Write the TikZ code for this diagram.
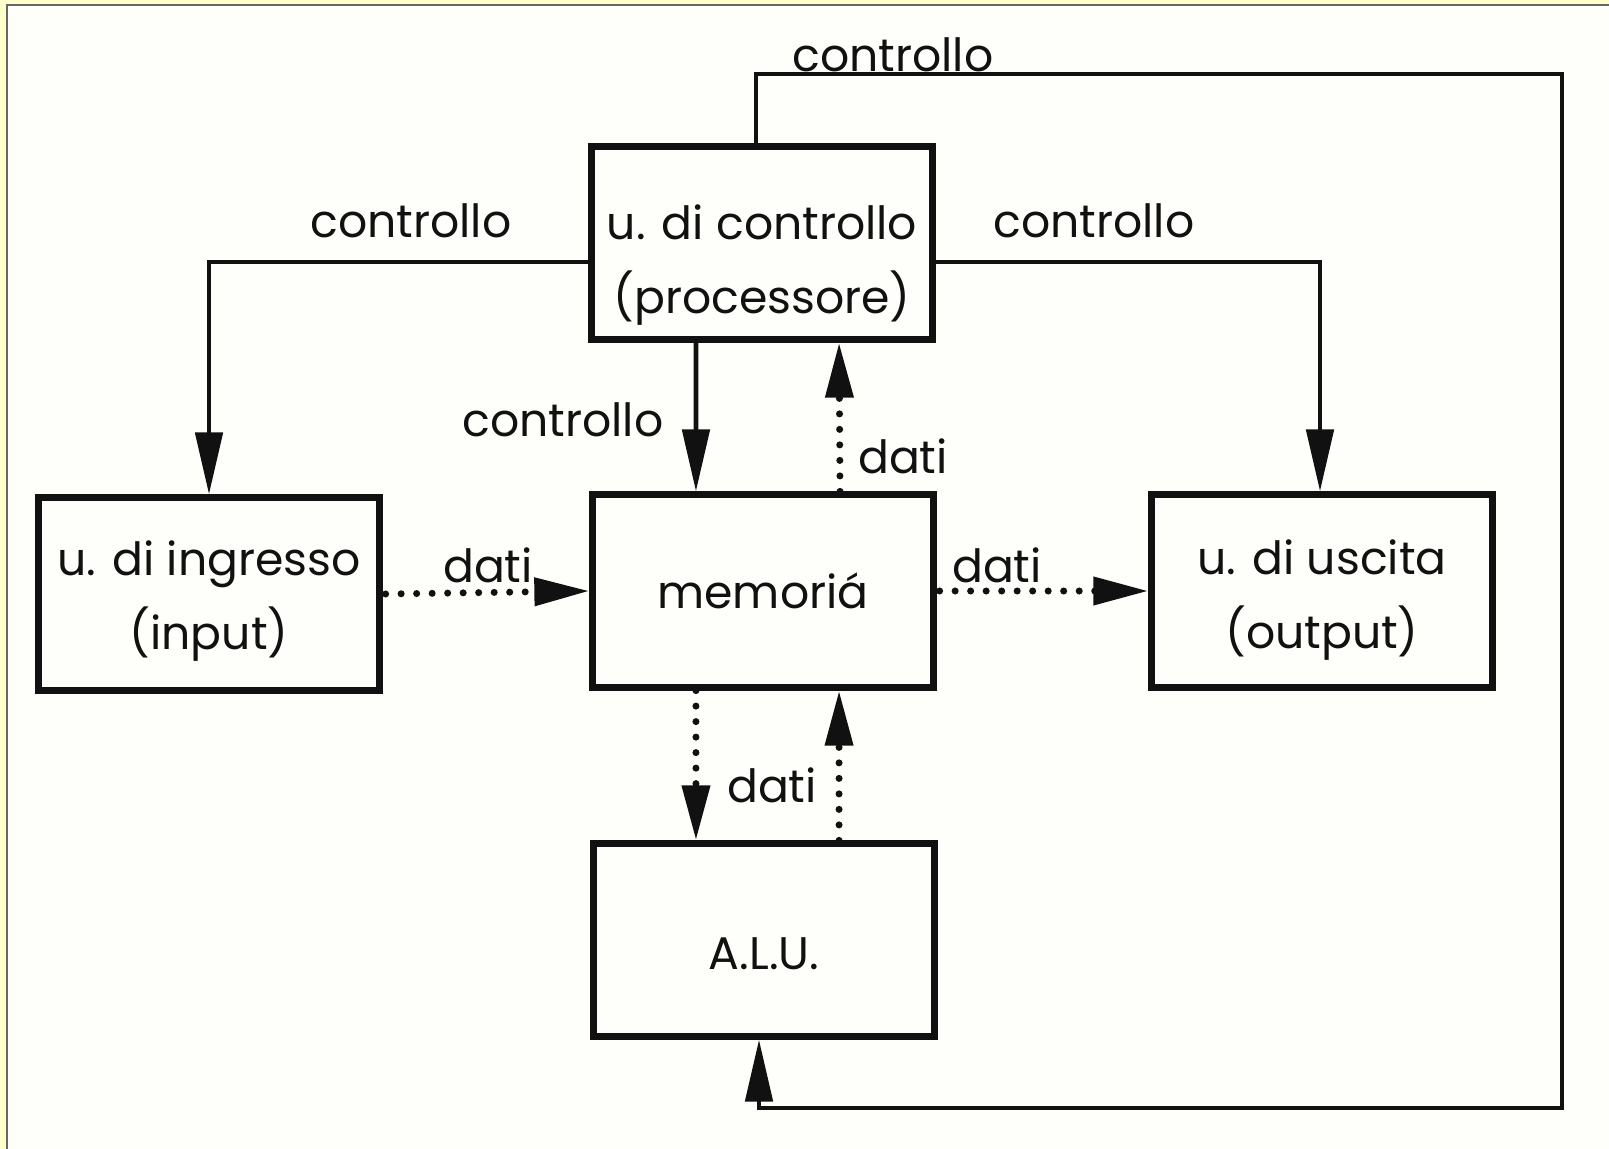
\documentclass[tikz,border=0pt]{standalone}
\usepackage{fontspec}
\setmainfont{Poppins}
\usetikzlibrary{arrows.meta}
\definecolor{paper}{HTML}{FFFFCC}
\definecolor{inner}{HTML}{FEFEFB}
\definecolor{framegray}{HTML}{666666}
\definecolor{ink}{HTML}{111111}

\begin{document}
\begin{tikzpicture}[x=0.01cm,y=-0.01cm,
        unit/.style={draw=ink,line width=2pt,minimum width=3.4cm,minimum height=1.92cm},
        unittext/.style={align=center,font=\fontsize{13}{21}\selectfont,text=ink,inner sep=0pt},
        lab/.style={anchor=base,font=\fontsize{13}{16}\selectfont,text=ink,inner sep=0pt},
        ctrlline/.style={draw=ink,line width=1.4pt,-{Triangle[length=0.62cm,width=0.27cm]}},
        datiline/.style={draw=ink,line width=2pt,line cap=round,dash pattern=on 0pt off 0.155cm,
            -{Triangle[length=0.55cm,width=0.27cm]}}]

    % page and frame
    \useasboundingbox (0,0) rectangle (1609,1149);
    \clip (0,0) rectangle (1609,1149);
    \fill[paper] (0,0) rectangle (1609,1149);
    \draw[framegray,line width=0.8pt,fill=inner] (7,5) rectangle (1640,1180);

    % the units
    \node[unit] (ctrl) at (762,243) {};
    \node[unit] (inp) at (209,594) {};
    \node[unit] (mem) at (763,591) {};
    \node[unit] (outp) at (1322,591) {};
    \node[unit] (alu) at (764,940) {};

    \node[unittext] (ctrltext) at ([yshift=-0.22cm]ctrl) {u. di controllo\\(processore)};
    \node[unittext] (inptext) at ([yshift=-0.07cm]inp) {u. di ingresso\\(input)};
    \node[unittext] (memtext) at (mem) {memoriá};
    \node[unittext] (outptext) at ([yshift=-0.09cm]outp) {u. di uscita\\(output)};
    \node[unittext] (alutext) at ([yshift=-0.14cm]alu) {A.L.U.};

    % control lines
    \draw[ctrlline] ([yshift=-0.19cm]ctrl.west) -| (inp.north);
    \draw[ctrlline] ([yshift=-0.19cm]ctrl.east) -| ([xshift=-0.02cm]outp.north);
    \draw[ctrlline] ([xshift=-0.66cm]ctrl.south) -- ([xshift=-0.67cm]mem.north);

    \coordinate (topR) at (1562,74);
    \coordinate (botR) at (1562,1108);
    \draw[ctrlline] ([xshift=-0.06cm]ctrl.north) |- (topR) -- (botR) -| ([xshift=-0.05cm]alu.south);

    % data lines
    \draw[datiline] ([xshift=0.77cm]mem.north) -- ([xshift=0.77cm]ctrl.south);
    \draw[datiline] ([xshift=0.03cm]inp.east) -- (mem.west);
    \draw[datiline] ([xshift=0.03cm]mem.east) -- (outp.west);
    \draw[datiline] ([xshift=-0.67cm]mem.south) -- ([xshift=-0.68cm]alu.north);
    \draw[datiline] ([xshift=0.75cm]alu.north) -- ([xshift=0.76cm]mem.south);

    % labels
    \node[lab] (lc1) at (893,72) {controllo};
    \node[lab] (lc2) at (411,238) {controllo};
    \node[lab] (lc3) at (1094,238) {controllo};
    \node[lab] (lc4) at (563,436) {controllo};
    \node[lab] (ld1) at (903,474) {dati};
    \node[lab] (ld2) at (488,583) {dati};
    \node[lab] (ld3) at (997,583) {dati};
    \node[lab] (ld4) at (772,802) {dati};

\end{tikzpicture}
\end{document}
